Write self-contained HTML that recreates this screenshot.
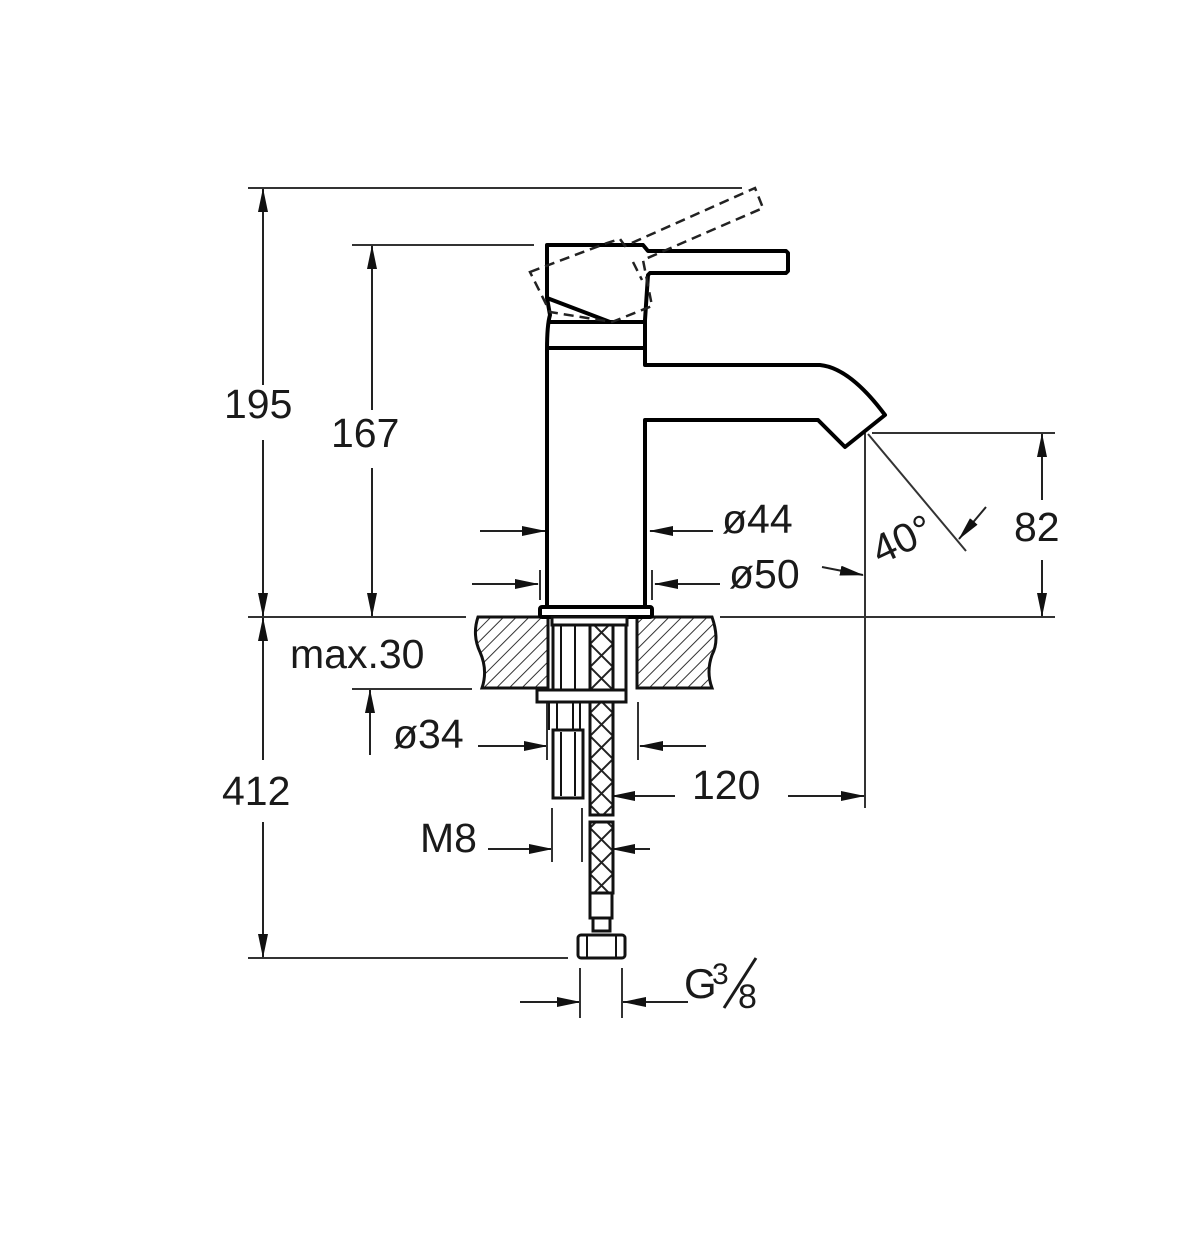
<!DOCTYPE html>
<html><head><meta charset="utf-8"><style>
html,body{margin:0;padding:0;background:#fff}
svg{display:block}
text{font-family:"Liberation Sans",sans-serif;fill:#1a1a1a;font-size:41px}
</style></head><body>
<svg width="1200" height="1249" viewBox="0 0 1200 1249" xmlns="http://www.w3.org/2000/svg">
<defs>
<marker id="a" markerWidth="24" markerHeight="10" refX="23" refY="5" orient="auto" markerUnits="userSpaceOnUse"><path d="M0,0 L24,5 L0,10 z" fill="#111"/></marker>
<pattern id="h" width="9" height="9" patternUnits="userSpaceOnUse" patternTransform="rotate(45)"><line x1="0" y1="0" x2="0" y2="9" stroke="#333" stroke-width="2"/></pattern>
<pattern id="x" width="23" height="23" patternUnits="userSpaceOnUse" x="590" y="0"><path d="M0,0 L23,23 M23,0 L0,23" stroke="#222" stroke-width="2"/></pattern>
</defs>
<g stroke="#333" stroke-width="2" fill="none">
<line x1="248" y1="188" x2="742" y2="188"/>
<line x1="352" y1="245" x2="534" y2="245"/>
<line x1="248" y1="617" x2="466" y2="617"/>
<line x1="720" y1="617" x2="1055" y2="617"/>
<line x1="352" y1="689" x2="472" y2="689"/>
<line x1="248" y1="958" x2="568" y2="958"/>
<line x1="872" y1="433" x2="1055" y2="433"/>
<line x1="865" y1="433" x2="865" y2="808"/>
<line x1="868" y1="434" x2="966" y2="551"/>
</g>
<g stroke="#222" stroke-width="2" fill="none" marker-end="url(#a)">
<line x1="263" y1="385" x2="263" y2="189"/>
<line x1="263" y1="440" x2="263" y2="616"/>
<line x1="372" y1="410" x2="372" y2="246"/>
<line x1="372" y1="468" x2="372" y2="616"/>
<line x1="263" y1="760" x2="263" y2="618"/>
<line x1="263" y1="822" x2="263" y2="957"/>
<line x1="370" y1="755" x2="370" y2="690"/>
<line x1="1042" y1="500" x2="1042" y2="434"/>
<line x1="1042" y1="560" x2="1042" y2="616"/>
<line x1="986" y1="507" x2="959" y2="539"/>
<line x1="480" y1="531" x2="545" y2="531"/>
<line x1="713" y1="531" x2="650" y2="531"/>
<line x1="472" y1="584" x2="538" y2="584"/>
<line x1="720" y1="584" x2="655" y2="584"/>
<line x1="822" y1="567" x2="863" y2="575"/>
<line x1="478" y1="746" x2="547" y2="746"/>
<line x1="706" y1="746" x2="640" y2="746"/>
<line x1="675" y1="796" x2="612" y2="796"/>
<line x1="788" y1="796" x2="864" y2="796"/>
<line x1="488" y1="849" x2="552" y2="849"/>
<line x1="650" y1="849" x2="612" y2="849"/>
<line x1="520" y1="1002" x2="580" y2="1002"/>
<line x1="688" y1="1002" x2="623" y2="1002"/>
</g>
<g stroke="#333" stroke-width="2">
<line x1="540" y1="570" x2="540" y2="600"/>
<line x1="652" y1="570" x2="652" y2="600"/>
<line x1="547" y1="702" x2="547" y2="760"/>
<line x1="638" y1="702" x2="638" y2="760"/>
<line x1="552" y1="808" x2="552" y2="862"/>
<line x1="582" y1="808" x2="582" y2="862"/>
<line x1="580" y1="968" x2="580" y2="1018"/>
<line x1="622" y1="968" x2="622" y2="1018"/>
</g>
<g stroke="#111" stroke-width="3">
<path d="M478,617 L548,617 L548,688 L482,688 Q488,670 480,652 Q472,635 478,617 z" fill="url(#h)"/>
<path d="M637,617 L712,617 Q720,640 712,655 Q706,672 712,688 L637,688 z" fill="url(#h)"/>
</g>
<g stroke="#000" stroke-width="4" fill="#fff" stroke-linejoin="round">
<path d="M547,607 L547,350 Q547,325 550,315 L547,298 L547,245 L643,245 L648,251 L786,251 L788,253 L788,271 L786,273 L650,273 L648,275 L645,320 L645,365 L820,365 Q850,368 885,415 L845,447 L818,420 L645,420 L645,607 z"/>
<line x1="547" y1="298" x2="610" y2="322"/>
<line x1="550" y1="322" x2="645" y2="322"/>
<line x1="547" y1="348" x2="645" y2="348"/>
<rect x="540" y="607" width="112" height="10" rx="2"/>
</g>
<g stroke="#222" stroke-width="2.5" fill="none" stroke-dasharray="10,6">
<path d="M530,272 L607,243 L620,239 L625,246 L755,188 L763,208 L643,260 L652,306 L612,322 L550,312 z"/>
<path d="M633,262 L642,280"/>
</g>
<g stroke="#111" stroke-width="3" fill="#fff">
<rect x="552" y="617" width="75" height="8"/>
<line x1="553" y1="625" x2="553" y2="690"/>
<line x1="626" y1="625" x2="626" y2="690"/>
<line x1="561" y1="625" x2="561" y2="690" stroke-width="2"/>
<line x1="575" y1="625" x2="575" y2="690" stroke-width="2"/>
<rect x="537" y="690" width="89" height="12"/>
<line x1="549" y1="702" x2="549" y2="730" stroke-width="2"/>
<line x1="557" y1="702" x2="557" y2="730" stroke-width="2"/>
<line x1="573" y1="702" x2="573" y2="730" stroke-width="2"/>
<line x1="580" y1="702" x2="580" y2="730" stroke-width="2"/>
<rect x="553" y="730" width="30" height="68"/>
<line x1="561" y1="732" x2="561" y2="796" stroke-width="2"/>
<line x1="575" y1="732" x2="575" y2="796" stroke-width="2"/>
<rect x="590" y="625" width="23" height="65" fill="url(#x)"/>
<rect x="590" y="702" width="23" height="113" fill="url(#x)"/>
<rect x="590" y="822" width="23" height="71" fill="url(#x)"/>
<rect x="590" y="893" width="22" height="25"/>
<rect x="593" y="918" width="17" height="13"/>
<rect x="578" y="935" width="47" height="23" rx="3"/>
<line x1="587" y1="936" x2="587" y2="957" stroke-width="2"/>
<line x1="616" y1="936" x2="616" y2="957" stroke-width="2"/>
</g>
<text x="224" y="418">195</text>
<text x="331" y="447">167</text>
<text x="222" y="805">412</text>
<text x="290" y="668">max.30</text>
<text x="393" y="748">ø34</text>
<text x="420" y="852">M8</text>
<text x="722" y="533">ø44</text>
<text x="729" y="588">ø50</text>
<text x="692" y="799">120</text>
<text x="1014" y="541">82</text>
<text x="880" y="565" transform="rotate(-25 880 565)">40°</text>
<text x="684" y="998" style="font-size:42px">G</text>
<text x="712" y="984" style="font-size:30px">3</text>
<line x1="724" y1="1008" x2="756" y2="958" stroke="#1a1a1a" stroke-width="3"/>
<text x="738" y="1008" style="font-size:34px">8</text>
</svg>
</body></html>
